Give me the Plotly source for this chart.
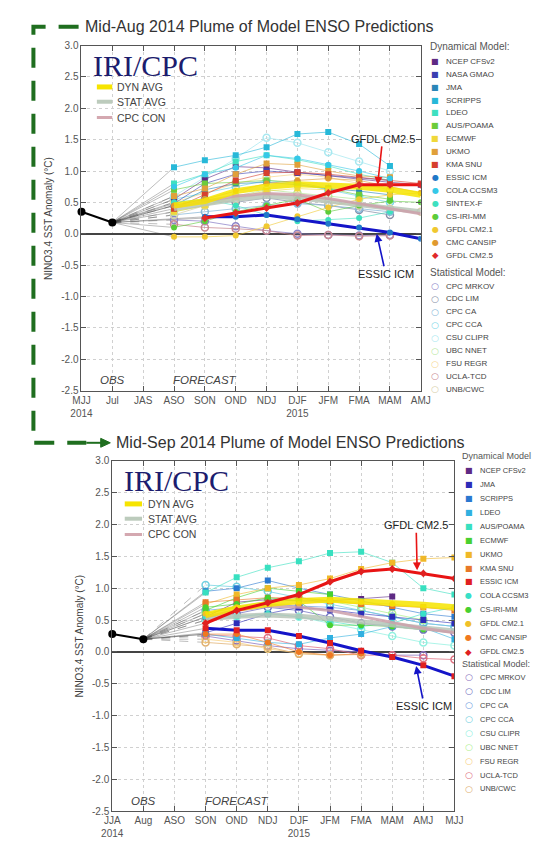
import plotly.graph_objects as go

W, H = 542, 842

# ---------------- DATA: Mid-Aug 2014 plume ----------------
aug_seasons = ["MJJ", "Jul", "JAS", "ASO", "SON", "OND", "NDJ", "DJF", "JFM", "FMA", "MAM", "AMJ"]
aug_years = {0: "2014", 7: "2015"}
aug_obs = [0.35, 0.18]
aug_dyn = {
    "NCEP CFSv2": [0.55, 0.87, 1.07, 1.05, 0.98, 0.92, 0.87, 0.82, 0.78],
    "NASA GMAO": [0.48, 0.80, 0.95, 1.00, 0.97, 0.93, 0.88, 0.85, None],
    "JMA": [0.45, 0.70, 0.80, 0.82, 0.78, 0.72, 0.68, 0.62, None],
    "SCRIPPS": [1.06, 1.17, 1.25, 1.38, 1.59, 1.62, 1.43, 1.08, None],
    "LDEO": [0.80, 0.95, 1.15, 1.25, 1.18, 1.08, 0.95, 0.85, None],
    "AUS/POAMA": [0.70, 0.80, 0.82, 0.85, 0.82, 0.72, 0.62, 0.55, None],
    "ECMWF": [0.35, 0.45, 0.58, 0.68, 0.72, 0.70, None, None, None],
    "UKMO": [0.60, 0.72, 0.95, 1.12, 1.10, 1.00, 0.92, 0.90, None],
    "KMA SNU": [0.40, 0.62, 0.85, 0.97, 0.98, 0.95, 0.90, 0.85, 0.80],
    "ESSIC ICM": [None, 0.27, 0.27, 0.30, 0.23, 0.16, 0.10, 0.02, -0.08],
    "COLA CCSM3": [0.75, 0.95, 1.05, 1.25, 1.20, 1.10, 1.00, 0.88, None],
    "SINTEX-F": [0.50, 0.55, 0.45, 0.30, 0.20, 0.22, 0.25, 0.35, None],
    "CS-IRI-MM": [0.10, 0.20, 0.35, 0.45, 0.55, 0.35, 0.45, 0.52, 0.50],
    "GFDL CM2.1": [-0.05, -0.05, -0.03, 0.12, 0.28, 0.42, 0.55, 0.62, 0.65],
    "CMC CANSIP": [0.45, 0.55, 0.68, 0.80, 0.85, 0.88, 0.85, 0.75, 0.65],
    "GFDL CM2.5": [None, 0.25, 0.33, 0.41, 0.49, 0.65, 0.78, 0.78, 0.78],
}
aug_stat = {
    "CPC MRKOV": [0.22, 0.20, 0.12, 0.05, 0.00, -0.02, -0.03, -0.02, None],
    "CDC LIM": [0.45, 0.55, 0.50, 0.57, 0.50, 0.45, 0.38, 0.30, None],
    "CPC CA": [0.30, 0.35, 0.40, 0.45, 0.48, 0.45, 0.40, 0.35, None],
    "CPC CCA": [0.55, 0.65, 0.75, 0.85, 0.80, 0.70, 0.60, 0.50, None],
    "CSU CLIPR": [0.60, 0.90, 1.20, 1.53, 1.45, 1.30, 1.15, 1.00, None],
    "UBC NNET": [0.35, 0.45, 0.60, 0.70, 0.65, 0.60, 0.55, None, None],
    "FSU REGR": [0.50, 0.65, 0.80, 0.90, 0.95, 0.90, 0.80, 0.70, None],
    "UCLA-TCD": [0.15, 0.10, 0.08, 0.05, -0.03, -0.02, -0.04, -0.03, None],
    "UNB/CWC": [0.30, 0.45, 0.55, 0.65, 0.60, 0.50, 0.45, 0.40, 0.35],
}
aug_dyn_avg = [0.45, 0.52, 0.68, 0.75, 0.79, 0.78, 0.75, 0.70, 0.62]
aug_stat_avg = [0.40, 0.48, 0.55, 0.60, 0.57, 0.52, 0.46, 0.40, 0.35]
aug_cpc_con = [0.42, 0.52, 0.60, 0.64, 0.62, 0.56, 0.48, 0.40, 0.32]

# ---------------- DATA: Mid-Sep 2014 plume ----------------
sep_seasons = ["JJA", "Aug", "ASO", "SON", "OND", "NDJ", "DJF", "JFM", "FMA", "MAM", "AMJ", "MJJ"]
sep_years = {0: "2014", 6: "2015"}
sep_obs = [0.28, 0.20]
sep_dyn = {
    "NCEP CFSv2": [0.55, 0.78, 0.82, 0.80, 0.80, 0.83, 0.87, None, None],
    "JMA": [0.30, 0.45, 0.60, 0.70, 0.66, 0.60, 0.55, 0.50, 0.45],
    "SCRIPPS": [0.95, 1.00, 1.12, 1.00, 0.90, 0.80, 0.70, 0.60, 0.55],
    "LDEO": [0.28, 0.22, 0.15, 0.12, 0.22, 0.28, 0.40, 0.38, 0.20],
    "AUS/POAMA": [0.93, 1.17, 1.32, 1.42, 1.55, 1.57, 1.40, 1.00, 0.90],
    "ECMWF": [0.65, 0.85, 1.00, 0.95, 0.90, None, None, None, None],
    "UKMO": [0.75, 0.90, 1.00, 1.05, 1.15, 1.30, 1.40, 1.46, 1.48],
    "KMA SNU": [0.78, 0.82, 0.85, 0.85, 0.80, 0.75, 0.72, 0.70, 0.65],
    "ESSIC ICM": [0.37, 0.34, 0.34, 0.25, 0.14, 0.02, -0.08, -0.21, -0.38],
    "COLA CCSM3": [0.55, 0.55, 0.60, 0.55, 0.48, 0.40, 0.45, 0.60, 0.70],
    "CS-IRI-MM": [0.70, 0.75, 0.85, 0.80, 0.42, 0.42, 0.40, 0.35, None],
    "GFDL CM2.1": [0.60, 0.70, 0.75, 0.75, 0.80, 0.78, 0.75, 0.70, 0.68],
    "CMC CANSIP": [0.28, 0.28, 0.15, 0.00, -0.05, -0.03, None, None, None],
    "GFDL CM2.5": [0.45, 0.65, 0.77, 0.90, 1.10, 1.26, 1.30, 1.23, 1.15],
}
sep_stat = {
    "CPC MRKOV": [0.25, 0.18, 0.10, 0.05, 0.02, 0.00, -0.05, -0.05, None],
    "CDC LIM": [0.50, 0.60, 0.70, 0.65, 0.55, 0.45, 0.40, 0.35, 0.30],
    "CPC CA": [0.65, 0.70, 0.75, 0.72, 0.70, 0.65, 0.55, 0.45, 0.40],
    "CPC CCA": [1.05, 1.02, 0.95, 0.85, 0.75, 0.65, 0.55, 0.45, 0.40],
    "CSU CLIPR": [0.50, 0.55, 0.60, 0.55, 0.45, 0.35, 0.25, 0.15, 0.10],
    "UBC NNET": [0.60, 0.70, 0.80, 0.85, 0.80, 0.70, 0.60, 0.50, None],
    "FSU REGR": [0.20, 0.15, 0.05, -0.02, -0.05, None, None, None, None],
    "UCLA-TCD": [0.27, 0.25, 0.22, 0.10, 0.05, -0.05, -0.05, -0.10, -0.12],
    "UNB/CWC": [0.15, 0.12, 0.08, -0.03, -0.05, -0.04, None, None, None],
}
sep_dyn_avg = [0.58, 0.68, 0.75, 0.80, 0.82, 0.80, 0.77, 0.74, 0.70]
sep_stat_avg = [0.52, 0.56, 0.58, 0.56, 0.52, 0.47, 0.42, 0.37, 0.33]
sep_cpc_con = [0.55, 0.65, 0.72, 0.70, 0.65, 0.56, 0.46, 0.37, 0.30]

y_ticks = [-2.5, -2.0, -1.5, -1.0, -0.5, 0.0, 0.5, 1.0, 1.5, 2.0, 2.5, 3.0]

# ---------------- STYLES ----------------
aug_dyn_colors = ["#5e2a84", "#3b3fb0", "#2a86b8", "#27b8d8", "#3ee0c0", "#6ccc3a", "#f0d83a", "#e0a03a",
                  "#d6402e", "#1f78c8", "#35c8e8", "#3ee0c0", "#5ccc3a", "#f0c830", "#e09a30", "#e02a2a"]
aug_dyn_symbols = ["square"] * 9 + ["circle"] * 6 + ["diamond"]
aug_stat_colors = ["#8c82c8", "#8890a8", "#88b8d8", "#7cd8e8", "#a8e8f0", "#b8e8a0", "#f8d890", "#c88890", "#d8d0a8"]

sep_dyn_colors = ["#5e2a84", "#2c2cb8", "#2a78d0", "#30b0e0", "#38e0c0", "#48d030", "#f0b828", "#e87828",
                  "#e02020", "#38e0c8", "#48d030", "#f0c028", "#f07820", "#e02020"]
sep_dyn_symbols = ["square"] * 9 + ["circle"] * 4 + ["diamond"]
sep_stat_colors = ["#8a70c0", "#7070c0", "#70a0e0", "#70d0e0", "#90f0e0", "#b0f090", "#f8d080", "#e07080", "#e0b070"]

highlight = {"ESSIC ICM": "#1414c8", "GFDL CM2.5": "#e81414"}
sym_char = {"square": "■", "circle": "●", "diamond": "◆", "open": "○"}

FONT = "Liberation Sans"


def rgba(hexc, a):
    h = hexc.lstrip("#")
    return "rgba(%d,%d,%d,%.2f)" % (int(h[0:2], 16), int(h[2:4], 16), int(h[4:6], 16), a)


def px(x):
    return x / W


def py(y):
    return 1 - y / H


fig = go.Figure()
annotations = []
shapes = []


def add_panel(xa, ya, obs, dyn, dyn_colors, dyn_symbols, stat, stat_colors, dyn_avg, stat_avg, cpc_con):
    start = 3
    xs = list(range(start, start + 9))
    last = len(obs) - 1
    common = dict(xaxis=xa, yaxis=ya, hoverinfo="skip", showlegend=False)
    # grey connectors from the last observation to each first forecast
    for group, dash in ((stat, "dash"), (dyn, "solid")):
        for name, vals in group.items():
            i0 = next(i for i, v in enumerate(vals) if v is not None)
            fig.add_trace(go.Scatter(x=[last, xs[i0]], y=[obs[-1], vals[i0]], mode="lines",
                                     line=dict(color="rgba(70,70,70,0.45)", width=0.8, dash=dash), **common))
    # statistical models
    for (name, vals), c in zip(stat.items(), stat_colors):
        fig.add_trace(go.Scatter(x=xs, y=vals, mode="lines+markers",
                                 line=dict(color=rgba(c, 0.75), width=1),
                                 marker=dict(symbol="circle-open", size=7, color=c, line=dict(width=1.5, color=c)),
                                 **common))
    # dynamical models (thin)
    for (name, vals), c, s in zip(dyn.items(), dyn_colors, dyn_symbols):
        if name in highlight:
            continue
        fig.add_trace(go.Scatter(x=xs, y=vals, mode="lines+markers",
                                 line=dict(color=rgba(c, 0.6), width=1),
                                 marker=dict(symbol=s, size=6, color=c), **common))
    # averages
    fig.add_trace(go.Scatter(x=xs, y=stat_avg, mode="lines", line=dict(color="rgba(185,198,185,0.85)", width=5), **common))
    fig.add_trace(go.Scatter(x=xs, y=cpc_con, mode="lines", line=dict(color="rgba(205,160,170,0.85)", width=3), **common))
    fig.add_trace(go.Scatter(x=xs, y=dyn_avg, mode="lines", line=dict(color="rgba(246,228,0,0.85)", width=6), **common))
    # highlighted models
    for (name, vals), c, s in zip(dyn.items(), dyn_colors, dyn_symbols):
        if name not in highlight:
            continue
        fig.add_trace(go.Scatter(x=xs, y=vals, mode="lines+markers",
                                 line=dict(color=highlight[name], width=3),
                                 marker=dict(symbol=s, size=6, color=c), **common))
    # observations
    fig.add_trace(go.Scatter(x=list(range(len(obs))), y=obs, mode="lines+markers",
                             line=dict(color="black", width=2), marker=dict(symbol="circle", size=8, color="black"),
                             cliponaxis=False, **common))


add_panel("x", "y", aug_obs, aug_dyn, aug_dyn_colors, aug_dyn_symbols, aug_stat, aug_stat_colors,
          aug_dyn_avg, aug_stat_avg, aug_cpc_con)
add_panel("x2", "y2", sep_obs, sep_dyn, sep_dyn_colors, sep_dyn_symbols, sep_stat, sep_stat_colors,
          sep_dyn_avg, sep_stat_avg, sep_cpc_con)


def xaxis_cfg(seasons, years, dom):
    ticktext = [s + ("<br>" + years[i] if i in years else "") for i, s in enumerate(seasons)]
    return dict(domain=[px(dom[0]), px(dom[1])], range=[0, len(seasons) - 1],
                tickmode="array", tickvals=list(range(len(seasons))), ticktext=ticktext,
                showline=True, linecolor="#555", linewidth=1, mirror="ticks",
                ticks="inside", ticklen=5, tickcolor="#555",
                showgrid=True, gridcolor="#d0d0d0", griddash="dot", gridwidth=1,
                zeroline=False, tickfont=dict(family=FONT, size=10, color="#555"))


def yaxis_cfg(dom, anchor):
    return dict(domain=[py(dom[1]), py(dom[0])], range=[-2.5, 3.0], anchor=anchor,
                tickmode="array", tickvals=y_ticks, ticktext=["%.1f" % v for v in y_ticks],
                showline=True, linecolor="#555", linewidth=1, mirror="ticks",
                ticks="inside", ticklen=5, tickcolor="#555",
                showgrid=True, gridcolor="#d0d0d0", griddash="dot", gridwidth=1,
                zeroline=True, zerolinecolor="#444", zerolinewidth=2,
                tickfont=dict(family=FONT, size=10, color="#555"))


panels = [
    dict(xa="x", ya="y", xdom=(65, 418), ydom=(32, 382), title="Mid-Aug 2014 Plume of Model ENSO Predictions",
         title_xy=(67, 13), iri=(75, 52), mini=(81, 97, 100, [74, 89, 105]), ytitle=(30, 207),
         gfdl=(9.6, 0.78, 5, -46), essic=(9.57, 0.0, 9, 40),
         leg=dict(hx=426, sx=433, tx=442, hy=33, y0=48, step=13.1, shy=262, sy0=276, fs=8, hfs=10,
                  dh="Dynamical Model:", names=list(aug_dyn.keys()), colors=aug_dyn_colors, syms=aug_dyn_symbols,
                  snames=list(aug_stat.keys()), scolors=aug_stat_colors)),
    dict(xa="x2", ya="y2", xdom=(97, 453), ydom=(453, 809), title="Mid-Sep 2014 Plume of Model ENSO Predictions",
         title_xy=(99, 435), iri=(107, 473), mini=(110, 128, 132, [497, 512, 528]), ytitle=(62, 631),
         gfdl=(9.8, 1.28, -1, -45), essic=(9.77, -0.22, 8, 40),
         leg=dict(hx=459, sx=468, tx=477, hy=448, y0=463, step=14.15, shy=659, sy0=673, fs=7.5, hfs=9,
                  dh="Dynamical Model", names=list(sep_dyn.keys()), colors=sep_dyn_colors, syms=sep_dyn_symbols,
                  snames=list(sep_stat.keys()), scolors=sep_stat_colors)),
]

layout_axes = {}
for p, seasons, years in ((panels[0], aug_seasons, aug_years), (panels[1], sep_seasons, sep_years)):
    xname = "xaxis" if p["xa"] == "x" else "xaxis2"
    yname = "yaxis" if p["ya"] == "y" else "yaxis2"
    xc = xaxis_cfg(seasons, years, p["xdom"])
    xc["anchor"] = p["ya"]
    layout_axes[xname] = xc
    layout_axes[yname] = yaxis_cfg(p["ydom"], p["xa"])

    # title
    annotations.append(dict(text=p["title"], x=px(p["title_xy"][0]), y=py(p["title_xy"][1]), xref="paper", yref="paper",
                            xanchor="left", yanchor="middle", showarrow=False,
                            font=dict(family=FONT, size=16, color="#333")))
    # IRI/CPC
    annotations.append(dict(text="IRI/CPC", x=px(p["iri"][0]), y=py(p["iri"][1]), xref="paper", yref="paper",
                            xanchor="left", yanchor="middle", showarrow=False,
                            font=dict(family="Liberation Serif", size=30, color="#1c1c6e")))
    # mini legend
    x0, x1, tx, ys = p["mini"]
    for (label, col, wd), yy in zip((("DYN AVG", "#f6e400", 5), ("STAT AVG", "#bccbbc", 4), ("CPC CON", "#d4a8b0", 3)), ys):
        shapes.append(dict(type="line", xref="paper", yref="paper", x0=px(x0), x1=px(x1), y0=py(yy), y1=py(yy),
                           line=dict(color=col, width=wd)))
        annotations.append(dict(text=label, x=px(tx), y=py(yy), xref="paper", yref="paper", xanchor="left",
                                yanchor="middle", showarrow=False, font=dict(family=FONT, size=10.5, color="#444")))
    # y axis title
    annotations.append(dict(text="NINO3.4 SST Anomaly (°C)", x=px(p["ytitle"][0]), y=py(p["ytitle"][1]),
                            xref="paper", yref="paper", xanchor="center", yanchor="middle", textangle=-90,
                            showarrow=False, font=dict(family=FONT, size=10, color="#444")))
    # OBS / FORECAST
    for label, xv in (("OBS", 1), ("FORECAST", 4)):
        annotations.append(dict(text="<i>" + label + "</i>", x=xv, y=-2.33, xref=p["xa"], yref=p["ya"],
                                showarrow=False, font=dict(family=FONT, size=11.5, color="#444")))
    # highlighted model labels
    gx, gy, gax, gay = p["gfdl"]
    annotations.append(dict(text="GFDL CM2.5", x=gx, y=gy, xref=p["xa"], yref=p["ya"], ax=gax, ay=gay,
                            showarrow=True, arrowhead=2, arrowsize=1, arrowwidth=1.6, arrowcolor="#e81414",
                            font=dict(family=FONT, size=11, color="#222")))
    ex, ey, eax, eay = p["essic"]
    annotations.append(dict(text="ESSIC ICM", x=ex, y=ey, xref=p["xa"], yref=p["ya"], ax=eax, ay=eay,
                            showarrow=True, arrowhead=2, arrowsize=1, arrowwidth=1.6, arrowcolor="#1414c8",
                            font=dict(family=FONT, size=11, color="#222")))
    # model legend
    L = p["leg"]
    annotations.append(dict(text=L["dh"], x=px(L["hx"]), y=py(L["hy"]), xref="paper", yref="paper", xanchor="left",
                            yanchor="middle", showarrow=False, font=dict(family=FONT, size=L["hfs"], color="#555")))
    for i, (nm, c, s) in enumerate(zip(L["names"], L["colors"], L["syms"])):
        yy = L["y0"] + i * L["step"]
        annotations.append(dict(text=sym_char[s], x=px(L["sx"]), y=py(yy), xref="paper", yref="paper",
                                xanchor="center", yanchor="middle", showarrow=False,
                                font=dict(family="DejaVu Sans", size=8 if s != "diamond" else 8.5, color=c)))
        annotations.append(dict(text=nm, x=px(L["tx"]), y=py(yy), xref="paper", yref="paper", xanchor="left",
                                yanchor="middle", showarrow=False, font=dict(family=FONT, size=L["fs"], color="#444")))
    annotations.append(dict(text="Statistical Model:", x=px(L["hx"]), y=py(L["shy"]), xref="paper", yref="paper",
                            xanchor="left", yanchor="middle", showarrow=False,
                            font=dict(family=FONT, size=L["hfs"], color="#555")))
    for i, (nm, c) in enumerate(zip(L["snames"], L["scolors"])):
        yy = L["sy0"] + i * L["step"]
        annotations.append(dict(text=sym_char["open"], x=px(L["sx"]), y=py(yy), xref="paper", yref="paper",
                                xanchor="center", yanchor="middle", showarrow=False,
                                font=dict(family="DejaVu Sans", size=9, color=c)))
        annotations.append(dict(text=nm, x=px(L["tx"]), y=py(yy), xref="paper", yref="paper", xanchor="left",
                                yanchor="middle", showarrow=False, font=dict(family=FONT, size=L["fs"], color="#444")))

# green dashed connector between the two panels
green = "#1f6e1f"
path = "M %f %f L %f %f L %f %f L %f %f" % (px(62), py(13), px(15), py(13), px(15), py(435), px(70), py(435))
shapes.append(dict(type="path", xref="paper", yref="paper", path=path,
                   line=dict(color=green, width=4, dash="20px,13px")))
shapes.append(dict(type="line", xref="paper", yref="paper", x0=px(70), x1=px(88), y0=py(435), y1=py(435),
                   line=dict(color=green, width=2)))
tri = "M %f %f L %f %f L %f %f Z" % (px(85), py(430.5), px(95), py(435), px(85), py(439.5))
shapes.append(dict(type="path", xref="paper", yref="paper", path=tri, fillcolor=green, line=dict(color=green, width=1)))

fig.update_layout(width=W, height=H, margin=dict(l=0, r=0, t=0, b=0), paper_bgcolor="white", plot_bgcolor="white",
                  showlegend=False, annotations=annotations, shapes=shapes, **layout_axes)

fig.write_html("out.html")
